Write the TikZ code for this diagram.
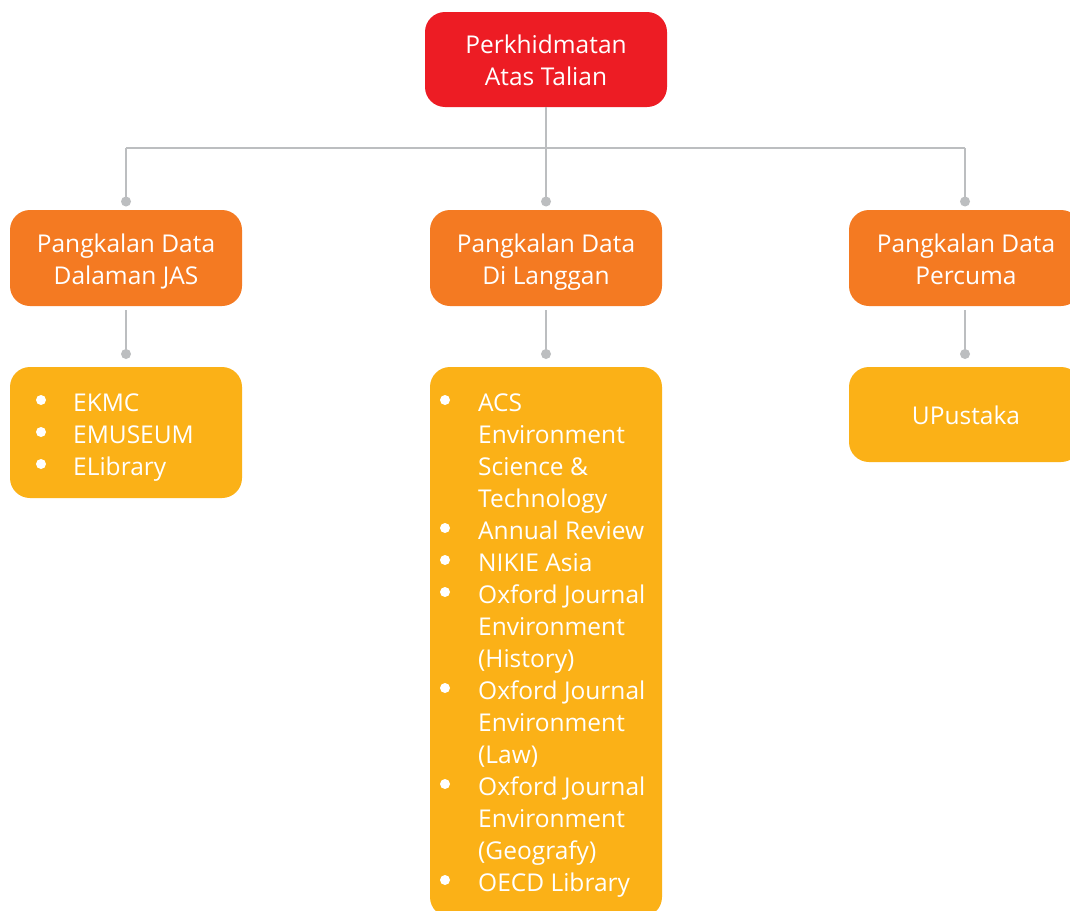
\documentclass[tikz,border=0pt]{standalone}
\usepackage{fontspec}
\setmainfont{Open Sans}
\definecolor{topred}{HTML}{ED1C24}
\definecolor{midorange}{HTML}{F47A22}
\definecolor{lowyellow}{HTML}{FBB117}
\definecolor{linegray}{HTML}{BCBEC0}
\begin{document}
\begin{tikzpicture}[x=1pt,y=-1pt,
  box/.style={rounded corners=20pt, inner sep=0pt},
  topbox/.style={box, fill=topred, minimum width=242pt, minimum height=95pt},
  midbox/.style={box, fill=midorange, minimum width=232pt, minimum height=96pt},
  lowbox/.style={box, fill=lowyellow, minimum width=232pt},
  boxtext/.style={anchor=base, inner sep=0pt, text=white, font=\fontsize{24.5}{32}\selectfont},
  itemtext/.style={anchor=base west, inner sep=0pt, text=white, font=\fontsize{24.5}{32}\selectfont},
  bulletdot/.style={circle, fill=white, inner sep=0pt, minimum size=10pt},
  conn/.style={draw=linegray, line width=2pt},
  jdot/.style={circle, fill=linegray, inner sep=0pt, minimum size=10pt}
]
\useasboundingbox (0,0) rectangle (1070,910);
\fill[white] (0,0) rectangle (1070,910);

% boxes
\node[topbox] (top) at (546,59.5) {};
\node[midbox] (pA) at (126,258) {};
\node[midbox] (pB) at (546,258) {};
\node[midbox] (pC) at (965,258) {};
\node[lowbox, minimum height=131pt] (lA) at (126,432.5) {};
\node[lowbox, minimum height=550pt] (lB) at (546,642) {};
\node[lowbox, minimum height=95pt] (lC) at (965,414.5) {};

% box texts
\node[boxtext] (top1) at (546,53) {Perkhidmatan};
\node[boxtext] (top2) at (546,85) {Atas Talian};
\node[boxtext] (pA1) at (126,252) {Pangkalan Data};
\node[boxtext] (pA2) at (126,284) {Dalaman JAS};
\node[boxtext] (pB1) at (546,252) {Pangkalan Data};
\node[boxtext] (pB2) at (546,284) {Di Langgan};
\node[boxtext] (pC1) at (966,252) {Pangkalan Data};
\node[boxtext] (pC2) at (966,284) {Percuma};
\node[boxtext] (lC1) at (966,424) {UPustaka};

% connectors
\coordinate (jL) at (126,148);
\coordinate (jR) at (965,148);
\node[jdot] (dA) at (126,201.5) {};
\node[jdot] (dB) at (546,201.5) {};
\node[jdot] (dC) at (965,201.5) {};
\draw[conn] (top.south) -- (dB.center);
\draw[conn] (jL) -- (jR);
\draw[conn] (jL) -- (dA.center);
\draw[conn] (jR) -- (dC.center);
\node[jdot] (eA) at (126,354) {};
\node[jdot] (eB) at (546,354) {};
\node[jdot] (eC) at (965,354) {};
\draw[conn] ([yshift=-4pt]pA.south) -- (eA.center);
\draw[conn] ([yshift=-4pt]pB.south) -- (eB.center);
\draw[conn] ([yshift=-4pt]pC.south) -- (eC.center);

% left list
\node[bulletdot] (ba1) at (41,400) {};
\node[bulletdot] (ba2) at (41,432) {};
\node[bulletdot] (ba3) at (41,464) {};
\node[itemtext] (ta1) at (73,411) {EKMC};
\node[itemtext] (ta2) at (73,443) {EMUSEUM};
\node[itemtext] (ta3) at (73,475) {ELibrary};

% middle list
\node[bulletdot] (bb1) at (445,400) {};
\node[bulletdot] (bb2) at (445,528) {};
\node[bulletdot] (bb3) at (445,560) {};
\node[bulletdot] (bb4) at (445,592) {};
\node[bulletdot] (bb5) at (445,688) {};
\node[bulletdot] (bb6) at (445,784) {};
\node[bulletdot] (bb7) at (445,880) {};
\node[itemtext] (tb01) at (478,411) {ACS};
\node[itemtext] (tb02) at (478,443) {Environment};
\node[itemtext] (tb03) at (478,475) {Science \&};
\node[itemtext] (tb04) at (478,507) {Technology};
\node[itemtext] (tb05) at (478,539) {Annual Review};
\node[itemtext] (tb06) at (478,571) {NIKIE Asia};
\node[itemtext] (tb07) at (478,603) {Oxford Journal};
\node[itemtext] (tb08) at (478,635) {Environment};
\node[itemtext] (tb09) at (478,667) {(History)};
\node[itemtext] (tb10) at (478,699) {Oxford Journal};
\node[itemtext] (tb11) at (478,731) {Environment};
\node[itemtext] (tb12) at (478,763) {(Law)};
\node[itemtext] (tb13) at (478,795) {Oxford Journal};
\node[itemtext] (tb14) at (478,827) {Environment};
\node[itemtext] (tb15) at (478,859) {(Geografy)};
\node[itemtext] (tb16) at (478,891) {OECD Library};
\end{tikzpicture}
\end{document}
